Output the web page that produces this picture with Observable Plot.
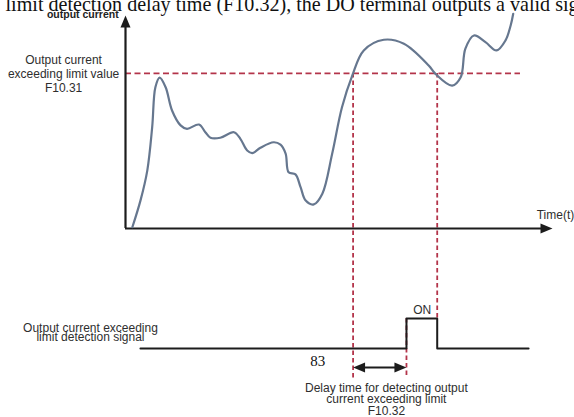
<!DOCTYPE html>
<html>
<head>
<meta charset="utf-8">
<script src="https://cdn.jsdelivr.net/npm/d3@7"></script>
<script src="https://cdn.jsdelivr.net/npm/@observablehq/plot@0.6"></script>
<style>
  html, body { margin: 0; padding: 0; background: #fff; overflow: hidden; }
</style>
</head>
<body>
<div id="chart"></div>
<script>
// ---- data (time t: 0..100 along the x axis, current: 0..100 along the y axis) ----
const curveT = [1.6, 3.5, 5.1, 6.25, 7.0, 8.0, 9.4, 10.9, 12.9, 14.4, 17.2, 18.7, 19.9, 22.2, 25.4, 26.9, 28.5, 29.7, 31.6, 34.7, 36.3, 37.5, 38.2, 39.8, 41.0, 42.2, 44.1, 46.1, 48.4, 50.7, 53.1, 55.8, 60.5, 65.2, 71.0, 72.6, 76.5, 78.5, 79.6, 81.6, 84.3, 86.9, 89.0, 90.2, 90.8];
const curveI = [0.6, 13.1, 27.2, 47.6, 66.3, 70.8, 66.3, 55.4, 48.4, 46.8, 48.8, 45.2, 42.6, 42.6, 45.2, 42.1, 36.6, 35.4, 37.9, 40.5, 39.4, 35.2, 26.4, 25.4, 19.4, 13.1, 11.3, 16.3, 35.1, 56.9, 71.8, 83.6, 88.6, 86.7, 76.5, 72.6, 67.1, 71.0, 84.4, 90.6, 87.5, 83.6, 88.3, 95.3, 100.8];

const threshold = 72.8;          // F10.31 level
const thresholdEnd = 92.5;       // right end of dashed threshold line
const crossStart = 53.3;         // curve rises above the limit
const crossEnd = 73.0;           // curve falls below the limit
const delayEnd = 65.8;           // end of detection delay (F10.32)
const axisEndT = 100, axisEndI = 100;

const signalLow = -56.3, signalHigh = -42.3;
const signalT = [3.5, delayEnd, delayEnd, crossEnd, crossEnd, 94.4];
const signalV = [signalLow, signalLow, signalHigh, signalHigh, signalLow, signalLow];
const guideBottom = -70.4;
const delayArrowY = -65.3;

const labels = {
  yTitle: "output current",
  xTitle: "Time(t)",
  limit: "Output current\nexceeding limit value\nF10.31",
  signal: "Output current exceeding\nlimit detection signal",
  on: "ON",
  delay: "Delay time for detecting output\ncurrent exceeding limit\nF10.32",
  stray: "83",
  top: "limit detection delay time (F10.32), the DO terminal outputs a valid signal"
};

// ---- arrowhead symbols (tip at origin) ----
const head = (dir) => ({
  draw(ctx) {
    const L = 12, W = 5;
    if (dir === "up") { ctx.moveTo(0, 0); ctx.lineTo(-W, L); ctx.lineTo(W, L); }
    if (dir === "right") { ctx.moveTo(0, 0); ctx.lineTo(-L, -W); ctx.lineTo(-L, W); }
    if (dir === "left") { ctx.moveTo(0, 0); ctx.lineTo(L, -W); ctx.lineTo(L, W); }
    ctx.closePath();
  }
});

const curve = curveT.map((t, i) => ({t, v: curveI[i]}));
const signal = signalT.map((t, i) => ({t, v: signalV[i]}));

const red = "#b3344a";
const ink = "#1c1c1c";
const txt = "#2e2e2e";
const sans = "Liberation Sans, Arial, sans-serif";
const serif = "Liberation Serif, Times New Roman, serif";

const chart = Plot.plot({
  width: 574,
  height: 417,
  margin: 0,
  x: {domain: [0, 100], range: [125, 552], axis: null},
  y: {domain: [0, 100], range: [228, 15], axis: null},
  style: {background: "#fff", fontFamily: sans, overflow: "visible"},
  marks: [
    // threshold dashed line
    Plot.ruleY([threshold], {x1: 0, x2: thresholdEnd, stroke: red, strokeWidth: 1.8, strokeDasharray: "6,3.5"}),
    // vertical dashed guides
    Plot.ruleX([crossStart], {y1: threshold, y2: guideBottom, stroke: red, strokeWidth: 1.8, strokeDasharray: "4.5,3"}),
    Plot.ruleX([crossEnd], {y1: threshold, y2: signalHigh, stroke: red, strokeWidth: 1.8, strokeDasharray: "4.5,3"}),
    Plot.ruleX([delayEnd], {y1: signalHigh, y2: guideBottom, stroke: red, strokeWidth: 1.8, strokeDasharray: "4.5,3"}),
    // axes
    Plot.ruleX([0], {y1: 0, y2: axisEndI - 3, stroke: ink, strokeWidth: 2.2}),
    Plot.ruleY([0], {x1: 0, x2: axisEndT - 1.5, stroke: ink, strokeWidth: 2.2}),
    Plot.dot([{t: 0, v: axisEndI}], {x: "t", y: "v", symbol: head("up"), fill: ink, stroke: null, r: 5}),
    Plot.dot([{t: axisEndT, v: 0}], {x: "t", y: "v", symbol: head("right"), fill: ink, stroke: null, r: 5}),
    // output current curve
    Plot.line(curve, {x: "t", y: "v", curve: "catmull-rom", stroke: "#66778f", strokeWidth: 2.2}),
    // detection signal
    Plot.line(signal, {x: "t", y: "v", stroke: ink, strokeWidth: 2}),
    // delay double arrow
    Plot.ruleY([delayArrowY], {x1: crossStart + 1.5, x2: delayEnd - 1.5, stroke: ink, strokeWidth: 2}),
    Plot.dot([{t: crossStart, v: delayArrowY}], {x: "t", y: "v", symbol: head("left"), fill: ink, stroke: null, r: 5}),
    Plot.dot([{t: delayEnd, v: delayArrowY}], {x: "t", y: "v", symbol: head("right"), fill: ink, stroke: null, r: 5}),
    // texts
    Plot.text([labels.yTitle], {x: -1.6, y: 100.3, textAnchor: "end", fontSize: 10.5, fontWeight: "bold", fill: "#222"}),
    Plot.text([labels.xTitle], {x: 96.3, y: 6.1, textAnchor: "start", fontSize: 12, fill: txt}),
    Plot.text([labels.limit], {x: -14.5, y: threshold, textAnchor: "middle", fontSize: 12, lineHeight: 1.17, fill: txt}),
    Plot.text([labels.signal], {x: -8.2, y: -49.5, textAnchor: "middle", fontSize: 12, lineHeight: 0.75, fill: txt}),
    Plot.text([labels.on], {x: 69.5, y: -38.2, textAnchor: "middle", fontSize: 12, fill: txt}),
    Plot.text([labels.delay], {x: 61.1, y: -80.3, textAnchor: "middle", fontSize: 12, lineHeight: 0.98, fill: txt}),
    Plot.text([labels.stray], {x: 45, y: -62.5, textAnchor: "middle", fontSize: 15, fontFamily: serif, fill: "#111"}),
    Plot.text([labels.top], {frameAnchor: "top-left", dx: 5, dy: 10, lineAnchor: "bottom", textAnchor: "start", fontSize: 20.1, fontFamily: serif, fill: "#111"})
  ]
});

document.getElementById("chart").appendChild(chart);
</script>
</body>
</html>
